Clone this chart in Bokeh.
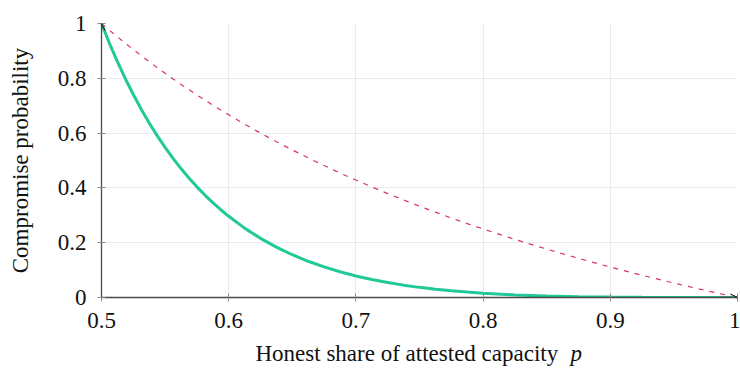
from bokeh.plotting import figure
from bokeh.layouts import column
from bokeh.models import FixedTicker, Arrow, OpenHead, Label, Range1d
from bokeh.embed import file_html
from bokeh.resources import INLINE

# Data
p_vals = [0.5, 0.50625, 0.5125, 0.51875, 0.525, 0.53125, 0.5375, 0.54375, 0.55, 0.55625, 0.5625,
          0.56875, 0.575, 0.58125, 0.5875, 0.59375, 0.6, 0.6125, 0.625, 0.6375, 0.65, 0.6625,
          0.675, 0.6875, 0.7, 0.7125, 0.725, 0.7375, 0.75, 0.7625, 0.775, 0.7875, 0.8, 0.825,
          0.85, 0.875, 0.9, 0.925, 0.95, 0.975, 1.0]
compromise = [1.0, 0.9277, 0.8607, 0.7984, 0.7407, 0.6869, 0.6371, 0.5908, 0.5477, 0.5077, 0.4705,
              0.4359, 0.4038, 0.3739, 0.3461, 0.3203, 0.2963, 0.2532, 0.216, 0.1839, 0.1561, 0.1322,
              0.1116, 0.0939, 0.0787, 0.0657, 0.0546, 0.0451, 0.0370, 0.0302, 0.0245, 0.0197, 0.0156, 0.0095,
              0.0055, 0.0029, 0.0014, 0.0005, 0.00015, 0.00002, 0.0]
reference = [1.0, 0.9753, 0.9512, 0.9277, 0.9048, 0.8824, 0.8605, 0.8391, 0.8182, 0.7978, 0.7778,
             0.7582, 0.7391, 0.7204, 0.7021, 0.6842, 0.6667, 0.6327, 0.6, 0.5686, 0.5385, 0.5094,
             0.4815, 0.4545, 0.4286, 0.4035, 0.3793, 0.3559, 0.3333, 0.3115, 0.2903, 0.2698, 0.25, 0.2121,
             0.1765, 0.1429, 0.1111, 0.0811, 0.0526, 0.0256, 0.0]
x_ticks = [0.5, 0.6, 0.7, 0.8, 0.9, 1.0]
y_ticks = [0, 0.2, 0.4, 0.6, 0.8, 1.0]
x_tick_labels = {0.5: "0.5", 0.6: "0.6", 0.7: "0.7", 0.8: "0.8", 0.9: "0.9", 1: "1"}
y_tick_labels = {0: "0", 0.2: "0.2", 0.4: "0.4", 0.6: "0.6", 0.8: "0.8", 1: "1"}

FONT = "Liberation Serif"
FS = "23px"
AXIS_COL = "#4a4a4a"

p = figure(width=740, height=339, output_backend="svg", toolbar_location=None,
           x_range=Range1d(0.5, 1.0), y_range=Range1d(0, 1.0),
           min_border_left=101, min_border_right=3, min_border_top=23, min_border_bottom=42)
p.outline_line_color = None
p.background_fill_color = "white"

for ax in (p.xaxis[0], p.yaxis[0]):
    ax.axis_line_color = AXIS_COL
    ax.axis_line_width = 1.3
    ax.major_tick_line_color = "#8a8a8a"
    ax.major_tick_in = 4
    ax.major_tick_out = 4
    ax.minor_tick_line_color = None
    ax.major_label_text_font = FONT
    ax.major_label_text_font_size = FS
    ax.major_label_text_color = "#111111"
    ax.axis_label_text_font = FONT
    ax.axis_label_text_font_size = FS
    ax.axis_label_text_font_style = "normal"
    ax.axis_label_text_color = "#111111"

p.xaxis.ticker = FixedTicker(ticks=x_ticks)
p.yaxis.ticker = FixedTicker(ticks=y_ticks)
p.xaxis.major_label_overrides = x_tick_labels
p.yaxis.major_label_overrides = y_tick_labels
p.xaxis.major_label_standoff = 11
p.yaxis.major_label_standoff = 11
p.yaxis.axis_label = "Compromise probability"
p.yaxis.axis_label_standoff = 22
p.xaxis.axis_label = None

p.xgrid.ticker = FixedTicker(ticks=x_ticks)
p.ygrid.ticker = FixedTicker(ticks=y_ticks)
p.grid.grid_line_color = "#e8ebf0"
p.grid.grid_line_width = 1

p.line(p_vals, reference, line_color="#d6336c", line_width=1.2, line_dash="5 6")
p.line(p_vals, compromise, line_color="#20c997", line_width=3)

# axis arrow heads
p.add_layout(Arrow(end=OpenHead(size=7, line_color="#111111", line_width=1),
                   x_start=0.5, y_start=0.97, x_end=0.5, y_end=1.0,
                   line_color=AXIS_COL, line_width=1.3))
p.add_layout(Arrow(end=OpenHead(size=7, line_color="#111111", line_width=1),
                   x_start=0.985, y_start=0, x_end=1.0, y_end=0,
                   line_color=AXIS_COL, line_width=1.3))

# x axis title strip (roman text + italic p); its frame is aligned with the main frame
lab = figure(width=740, height=30, output_backend="svg", toolbar_location=None,
             x_axis_type=None, y_axis_type=None, min_border=0,
             x_range=Range1d(0, 1), y_range=Range1d(0, 1))
lab.outline_line_color = None
lab.grid.visible = False
lab.add_layout(Label(x=154, y=16, x_units="screen", y_units="screen",
                     text="Honest share of attested capacity", text_font=FONT,
                     text_font_size=FS, text_color="#111111", text_baseline="alphabetic"))
lab.add_layout(Label(x=469, y=16, x_units="screen", y_units="screen",
                     text="p", text_font=FONT, text_font_style="italic",
                     text_font_size=FS, text_color="#111111", text_baseline="alphabetic"))

layout = column(p, lab, spacing=0)
open("out.html", "w").write(file_html(layout, INLINE))
